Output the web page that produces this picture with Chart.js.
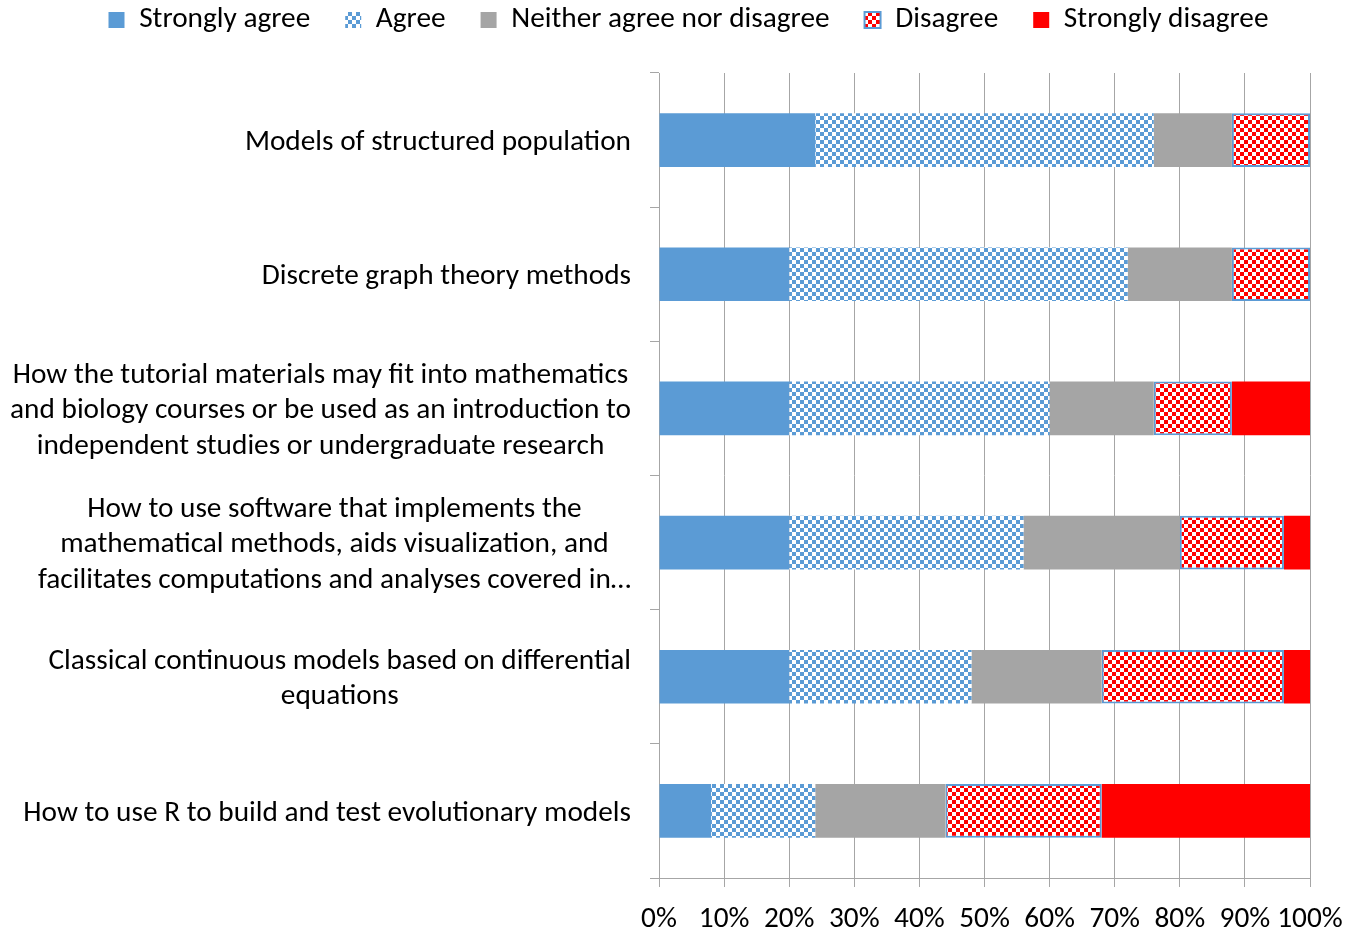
<!DOCTYPE html>
<html><head><meta charset="utf-8">
<script src="https://cdn.jsdelivr.net/npm/chart.js@4"></script>
<style>html,body{margin:0;padding:0;background:#fff;}</style>
</head><body>
<canvas id="c" width="1356" height="932"></canvas>
<script>
const categories = [
  ["Models of structured population"],
  ["Discrete graph theory methods"],
  ["How the tutorial materials may fit into mathematics", "and biology courses or be used as an introduction to", "independent studies or undergraduate research"],
  ["How to use software that implements the", "mathematical methods, aids visualization, and", "facilitates computations and analyses covered in…"],
  ["Classical continuous models based on differential", "equations"],
  ["How to use R to build and test evolutionary models"]
];
const seriesNames = ["Strongly agree", "Agree", "Neither agree nor disagree", "Disagree", "Strongly disagree"];
const stronglyAgree    = [24, 20, 20, 20, 20, 8];
const agree            = [52, 52, 40, 36, 28, 16];
const neither          = [12, 16, 16, 24, 20, 20];
const disagree         = [12, 12, 12, 16, 28, 24];
const stronglyDisagree = [0, 0, 12, 4, 4, 32];
const xTickValues = [0, 10, 20, 30, 40, 50, 60, 70, 80, 90, 100];

const FONT = 'Carlito, "Open Sans"';
const FS = 29.3;
const canvas = document.getElementById('c');
const mainCtx = canvas.getContext('2d');
function checker(color, cell) {
  const t = document.createElement('canvas');
  t.width = t.height = cell * 2;
  const g = t.getContext('2d');
  g.fillStyle = '#fff'; g.fillRect(0, 0, cell * 2, cell * 2);
  g.fillStyle = color;
  g.fillRect(0, 0, cell, cell);
  g.fillRect(cell, cell, cell, cell);
  return mainCtx.createPattern(t, 'repeat');
}
const BLUE = '#5B9BD5', GRAY = '#A5A5A5', RED = '#FF0000', GRID = '#A6A6A6';

const LEG_PAD = 35;
const legendPlugin = {
  id: 'legendBox',
  beforeInit(chart) {
    const fit = chart.legend.fit;
    chart.legend.fit = function () { fit.call(this); this.height = 73; };
  },
  afterLayout(chart) {
    const lg = chart.legend;
    lg.top = 20 - LEG_PAD - FS / 2;
    lg.left += 33.5;
    lg.right += 33.5;
  }
};
const yLabelPlugin = {
  id: 'yLabels',
  afterDraw(chart) {
    const ys = chart.scales.y, ctx = chart.ctx;
    ctx.save();
    ctx.font = FS + 'px ' + FONT;
    ctx.fillStyle = '#000';
    ctx.textAlign = 'center';
    ctx.textBaseline = 'middle';
    const right = ys.right - 28;
    categories.forEach((lines, i) => {
      const yc = ys.getPixelForValue(i) + 2.5;
      const w = Math.max(...lines.map(l => ctx.measureText(l).width));
      const cx = right - w / 2;
      const lh = 35.5;
      lines.forEach((l, j) => ctx.fillText(l, cx, yc + (j - (lines.length - 1) / 2) * lh));
    });
    ctx.restore();
  }
};

const values = [stronglyAgree, agree, neither, disagree, stronglyDisagree];
const fills = [BLUE, checker(BLUE, 4), GRAY, checker(RED, 4), RED];
const borders = [0, 0, 0, 2, 0];

new Chart(canvas, {
  type: 'bar',
  data: {
    labels: categories,
    datasets: seriesNames.map((n, k) => ({
      label: n,
      data: values[k],
      backgroundColor: fills[k],
      borderColor: BLUE,
      borderWidth: borders[k],
      borderSkipped: false,
      barPercentage: 0.4,
      categoryPercentage: 1
    }))
  },
  options: {
    indexAxis: 'y',
    responsive: false,
    animation: false,
    layout: { padding: { left: 0, right: 46, top: 0, bottom: 0 } },
    plugins: {
      legend: {
        position: 'top',
        labels: { font: { size: FS, family: FONT }, color: '#000', boxWidth: 16, boxHeight: 16, padding: LEG_PAD }
      },
      tooltip: { enabled: false }
    },
    scales: {
      x: {
        stacked: true, min: 0, max: 100,
        afterBuildTicks(s) { s.ticks = xTickValues.map(v => ({ value: v })); },
        afterFit(s) { s.height = 54; s.paddingRight = 0; s.paddingLeft = 0; },
        grid: { color: GRID, tickLength: 9, drawTicks: true },
        border: { color: GRID },
        ticks: { callback: v => v + '%', font: { size: FS, family: FONT }, color: '#000', padding: 15, maxRotation: 0, minRotation: 0, autoSkip: false }
      },
      y: {
        stacked: true,
        afterFit(s) { s.width = 659; },
        grid: { offset: true, drawOnChartArea: false, drawTicks: true, tickLength: 9, color: GRID },
        border: { color: GRID },
        ticks: { display: false }
      }
    }
  },
  plugins: [legendPlugin, yLabelPlugin]
});
</script>
</body></html>
